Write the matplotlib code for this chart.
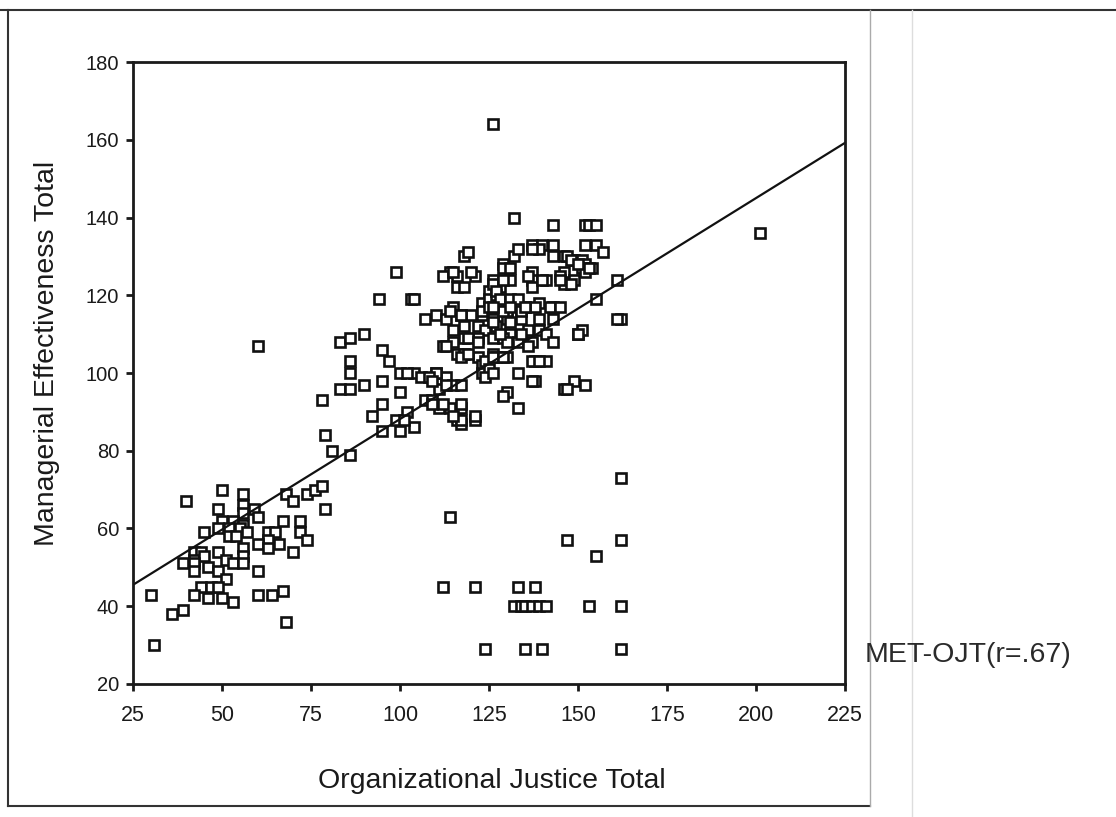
import matplotlib.pyplot as plt
from matplotlib.lines import Line2D
import numpy as np

plt.rcParams['font.family'] = ['Liberation Sans', 'DejaVu Sans']

# Organizational Justice Total (x) / Managerial Effectiveness Total (y) per respondent
ojt_low = [50, 40, 56, 49, 56, 59, 56, 60, 50, 53, 56, 55, 45, 49, 52, 57, 52, 54, 63, 65,
           67, 72, 72, 74, 63, 66, 60, 63, 70, 56, 42, 44, 49, 42, 45, 51, 56, 39, 42, 46,
           53, 56, 60, 49, 42, 51, 44, 47, 49, 30, 42, 46, 50, 53, 60, 64, 67, 39, 36, 68,
           31, 68, 70, 74, 76, 78, 79]
met_low = [70, 67, 69, 65, 66, 65, 64, 63, 62, 62, 61, 60, 59, 60, 60, 59, 58, 58, 59, 59,
           62, 62, 59, 57, 57, 56, 56, 55, 54, 55, 54, 54, 54, 52, 53, 52, 53, 51, 51, 50,
           51, 51, 49, 49, 49, 47, 45, 45, 45, 43, 43, 42, 42, 41, 43, 43, 44, 39, 38, 36,
           30, 69, 67, 69, 70, 71, 65]

ojt_mid = [60, 83, 86, 90, 95, 97, 86, 86, 83, 86, 90, 95, 100, 104, 106, 110, 113, 115, 111, 100,
           78, 95, 92, 107, 109, 111, 114, 117, 116, 117, 121, 99, 102, 104, 100, 95, 79, 81, 86,
           94, 103, 99, 101, 102, 110]
met_mid = [107, 108, 109, 110, 106, 103, 103, 100, 96, 96, 97, 98, 100, 100, 99, 100, 99, 97, 96, 95,
           93, 92, 89, 93, 93, 91, 91, 91, 88, 87, 88, 88, 90, 86, 85, 85, 84, 80, 79,
           119, 119, 126, 88, 100, 100]

ojt_high = [126, 201, 132, 143, 152, 153, 155, 137, 140, 143, 139, 137, 152, 155, 157,
            118, 119, 132, 143, 146, 149, 151, 152, 151, 154, 129, 129, 114, 116, 118, 121, 126, 131,
            125, 128, 137, 137, 137, 141, 146, 146, 149, 152, 161, 104, 155, 162, 150, 151,
            107, 110, 113, 115, 117, 120, 123, 125, 127, 128, 131, 135, 139, 143, 139, 143,
            123, 126, 130, 134, 118, 115, 122, 124, 127, 131, 136, 139, 141,
            112, 115, 118, 122, 126, 129, 133, 137, 143, 116, 118, 122, 126, 127, 130, 123, 124,
            138, 141, 123, 133, 138, 130, 133, 146, 149, 152, 112, 116, 115, 120, 131, 126, 129,
            127, 128, 131, 133, 114, 117, 123, 125, 130, 134, 138, 133, 147, 148, 150, 153, 145,
            136, 140, 145, 148, 142, 145, 129, 113, 119, 122, 130, 136, 117, 119, 126, 129, 125,
            124, 126, 108, 109, 113, 117, 129, 117, 121, 117, 109, 112, 115, 161, 150,
            126, 131, 135, 126, 131, 134, 128, 137, 139, 137, 147]
met_high = [164, 136, 140, 138, 138, 138, 138, 133, 133, 133, 132, 132, 133, 133, 131,
            130, 131, 130, 130, 130, 129, 129, 128, 127, 127, 128, 127, 126, 122, 122, 125, 124, 124,
            121, 122, 126, 124, 122, 124, 126, 123, 124, 126, 124, 119, 119, 114, 110, 111,
            114, 115, 114, 117, 115, 115, 118, 119, 120, 117, 118, 117, 118, 117, 114, 114,
            115, 114, 114, 114, 112, 111, 112, 111, 112, 110, 111, 111, 110,
            107, 108, 109, 109, 109, 109, 108, 108, 108, 105, 105, 104, 105, 104, 104, 102, 103,
            103, 103, 100, 100, 98, 95, 91, 96, 98, 97, 125, 125, 126, 126, 127, 123, 124,
            121, 119, 119, 119, 116, 115, 116, 117, 116, 116, 117, 132, 130, 129, 128, 127, 125,
            125, 124, 124, 123, 117, 117, 116, 107, 109, 108, 108, 107, 104, 105, 104, 104, 101,
            99, 100, 99, 98, 97, 97, 94, 92, 89, 88, 92, 92, 89, 114, 110,
            117, 117, 117, 113, 113, 110, 110, 103, 103, 98, 96]

# cases well below the trend
ojt_out = [114, 162, 147, 155, 162, 112, 121, 133, 138, 132, 134, 135, 137, 139, 141,
           153, 162, 124, 135, 140, 162]
met_out = [63, 73, 57, 53, 57, 45, 45, 45, 45, 40, 40, 40, 40, 40, 40,
           40, 40, 29, 29, 29, 29]

ojt = np.array(ojt_low + ojt_mid + ojt_high + ojt_out)
met = np.array(met_low + met_mid + met_high + met_out)

# least squares line shown in the chart
fit_intercept = 31.3
fit_slope = 0.5685

fig = plt.figure(figsize=(11.16, 8.17), dpi=100)
ax = fig.add_axes([0.1192, 0.1628, 0.6380, 0.7613])

ax.plot(ojt, met, linestyle='none', marker='s', markersize=6.8,
        markerfacecolor='white', markeredgecolor='#111111', markeredgewidth=1.9)

xs = np.array([25, 225])
ax.plot(xs, fit_intercept + fit_slope * xs, color='#111111', linewidth=1.6)

ax.set_xlim(25, 225)
ax.set_ylim(20, 180)
ax.set_xticks(np.arange(25, 226, 25))
ax.set_yticks(np.arange(20, 181, 20))
for s in ax.spines.values():
    s.set_linewidth(2)
    s.set_color('#1a1a1a')
ax.tick_params(direction='out', length=5, width=2, colors='#1a1a1a')
ax.tick_params(axis='x', labelsize=15.5, pad=10)
ax.tick_params(axis='y', labelsize=14.5, pad=5)

fig.text(492 / 1116, 1 - 781 / 817, 'Organizational Justice Total', ha='center', va='center',
         fontsize=20.5, color='#1a1a1a')
fig.text(47 / 1116, 1 - 353 / 817, 'Managerial Effectiveness Total', ha='center', va='center',
         rotation=90, fontsize=20.5, color='#1a1a1a')
fig.text(865 / 1116, 1 - 655 / 817, 'MET-OJT(r=.67)', ha='left', va='center',
         fontsize=20.5, color='#2a2a2a')

# page frame around the chart
fx0, fx1, fy0, fy1 = 8 / 1116, 870 / 1116, 1 - 806 / 817, 1 - 10 / 817
frame = dict(transform=fig.transFigure, color='#333333', linewidth=1.5)
fig.add_artist(Line2D([0, 1], [fy1, fy1], **frame))
fig.add_artist(Line2D([fx0, fx0], [fy0, fy1], **frame))
fig.add_artist(Line2D([fx0, fx1], [fy0, fy0], **frame))
fig.add_artist(Line2D([fx1, fx1], [fy0, fy1], transform=fig.transFigure, color='#aaaaaa', linewidth=1))
fig.add_artist(Line2D([912 / 1116, 912 / 1116], [0, fy1], transform=fig.transFigure,
                      color='#dddddd', linewidth=1))

fig.savefig('out.png', dpi=100)
